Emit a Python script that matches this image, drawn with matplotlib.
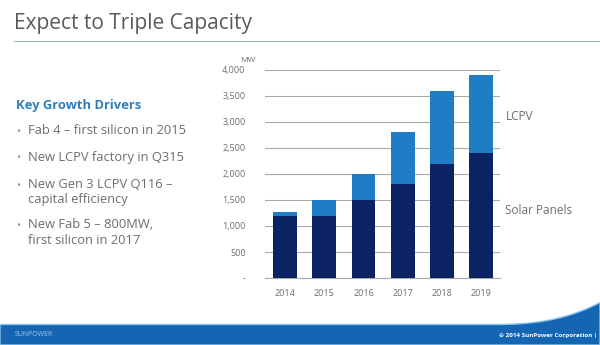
import matplotlib
matplotlib.use('Agg')
import matplotlib.pyplot as plt
from matplotlib.patches import Polygon, Rectangle
import numpy as np

years = ['2014', '2015', '2016', '2017', '2018', '2019']
solar_panels = [1200, 1200, 1500, 1800, 2200, 2400]
lcpv = [60, 300, 500, 1000, 1400, 1500]
y_ticks = [0, 500, 1000, 1500, 2000, 2500, 3000, 3500, 4000]
y_tick_labels = ['-', '500', '1,000', '1,500', '2,000', '2,500', '3,000', '3,500', '4,000']

drivers = [
    'Fab 4 \u2013 first silicon in 2015',
    'New LCPV factory in Q315',
    'New Gen 3 LCPV Q116 \u2013\ncapital efficiency',
    'New Fab 5 \u2013 800MW,\nfirst silicon in 2017',
]

dark_blue = '#0b2263'
light_blue = '#1f7dc6'
grey_text = '#6d6d6d'
font = 'Open Sans'

plt.rcParams['font.family'] = [font, 'DejaVu Sans']

W, H = 600, 345
fig = plt.figure(figsize=(W / 100, H / 100), dpi=100)
fig.patch.set_facecolor('white')

def fx(px):
    return px / W

def fy(py):
    return 1 - py / H

# title and rule
fig.text(fx(14), fy(24), 'Expect to Triple Capacity', fontsize=15, color='#5a5a5a',
         va='center', ha='left')
fig.add_artist(Rectangle((fx(14), fy(42)), 1 - fx(14), 1.5 / H, transform=fig.transFigure,
                         facecolor='#9fb3c4', edgecolor='none'))

# left-hand bullet list
fig.text(fx(16), fy(105), 'Key Growth Drivers', fontsize=9.4, fontweight='bold',
         color='#2f7dbd', va='center', ha='left')
bullet_y = [132, 159, 186, 227]
for y, txt in zip(bullet_y, drivers):
    fig.text(fx(16), fy(y), '\u2022', fontsize=8, color='#9a9a9a', va='center', ha='left')
    fig.text(fx(28), fy(y) + 8.5 / H, txt, fontsize=9.3, color=grey_text, va='top', ha='left',
             linespacing=1.2)

# stacked bars
ax = fig.add_axes([fx(265), fy(278), fx(500) - fx(265), (278 - 70) / H])
x = np.arange(len(years))
ax.bar(x, solar_panels, width=0.61, color=dark_blue, zorder=3)
ax.bar(x, lcpv, width=0.61, bottom=solar_panels, color=light_blue, zorder=3)
ax.set_xlim(-0.51, 5.48)
ax.set_ylim(0, 4000)
ax.set_yticks(y_ticks)
ax.set_yticklabels(y_tick_labels)
ax.set_xticks(x)
ax.set_xticklabels(years)
ax.yaxis.grid(True, color='#a8a8a8', linewidth=0.8, zorder=0)
for s in ['top', 'right', 'left']:
    ax.spines[s].set_visible(False)
ax.spines['bottom'].set_color('#a8a8a8')
ax.tick_params(axis='both', length=0, labelsize=6.5, labelcolor=grey_text)
ax.tick_params(axis='y', pad=14)
ax.tick_params(axis='x', pad=8)
for lbl in ax.get_yticklabels():
    lbl.set_horizontalalignment('right')
ax.text(-0.105, 1.03, 'MW', transform=ax.transAxes, fontsize=6, color=grey_text,
        ha='left', va='bottom')

fig.text(fx(506), fy(117), 'LCPV', fontsize=8.5, color=grey_text, va='center', ha='left')
fig.text(fx(505), fy(211), 'Solar Panels', fontsize=8.5, color=grey_text, va='center', ha='left')

# footer band with swoosh on the right
xs = np.linspace(0, W, 200)
top = 324.5 - 22 * np.clip((xs - 490) / 110, 0, 1) ** 2.6
edge = np.column_stack([fx(xs), fy(top)])
band = np.vstack([edge, [[1, 0], [0, 0]]])
fig.add_artist(Polygon(band, closed=True, transform=fig.transFigure,
                       facecolor='#1466b3', edgecolor='#8cc6ee', linewidth=1.0))
fig.text(fx(15), fy(335), 'SUNPOWER', fontsize=5, color='#9cc3e6', va='center', ha='left')
fig.text(fx(597), fy(335), '\u00a9 2014 SunPower Corporation |', fontsize=4.5, color='white',
         va='center', ha='right', fontweight='bold')

fig.savefig('out.png', dpi=100)
